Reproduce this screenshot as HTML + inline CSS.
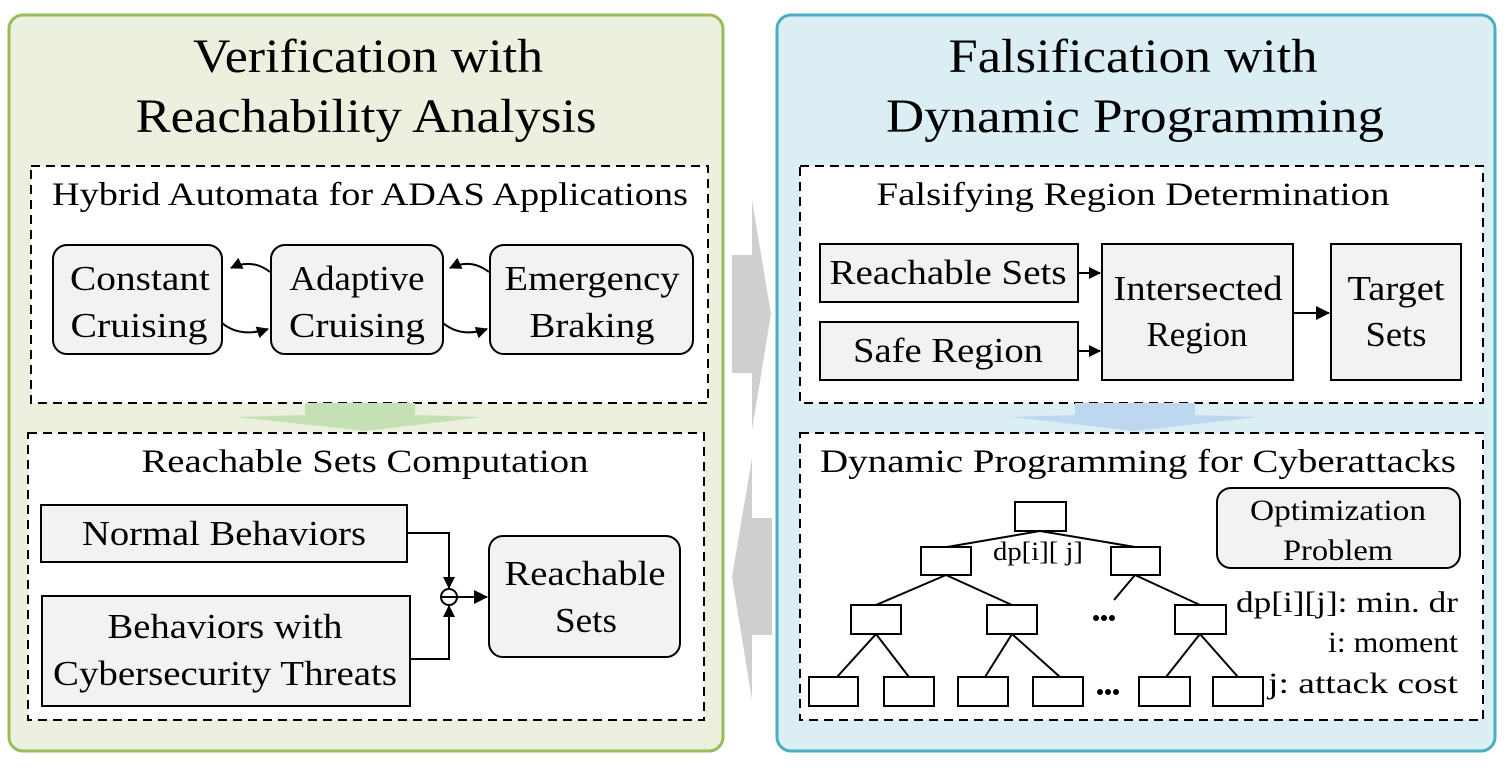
<!DOCTYPE html>
<html><head><meta charset="utf-8"><style>
html,body{margin:0;padding:0;background:#fff;}
svg{display:block;}
text{font-family:"Liberation Serif",serif;fill:#000;}
</style></head><body>
<svg width="1512" height="772" viewBox="0 0 1512 772" xmlns="http://www.w3.org/2000/svg">
<defs>
<marker id="ah" markerWidth="12" markerHeight="12" refX="11" refY="6" orient="auto" markerUnits="userSpaceOnUse">
<path d="M0,0 L12,6 L0,12 z" fill="#000"/>
</marker>
<marker id="ah2" markerWidth="14" markerHeight="14" refX="13" refY="7" orient="auto" markerUnits="userSpaceOnUse">
<path d="M0,0 L14,7 L0,14 z" fill="#000"/>
</marker>
</defs>
<rect x="9" y="15" width="714" height="736" rx="14" fill="#ebf1de" stroke="#9bbb59" stroke-width="3"/>
<rect x="777" y="15" width="718" height="736" rx="14" fill="#dbeef4" stroke="#4bacc6" stroke-width="3"/>
<g font-size="48" text-anchor="middle">
<text x="368" y="72" textLength="350" lengthAdjust="spacingAndGlyphs">Verification with</text>
<text x="366" y="132" textLength="461" lengthAdjust="spacingAndGlyphs">Reachability Analysis</text>
<text x="1133" y="72" textLength="369" lengthAdjust="spacingAndGlyphs">Falsification with</text>
<text x="1135" y="132" textLength="498" lengthAdjust="spacingAndGlyphs">Dynamic Programming</text>
</g>

<path d="M732,255 L752,255 L752,200 L771,314 L752,430 L752,373 L732,373 z" fill="#d0cece"/>
<path d="M772,518 L752,518 L752,458 L732,577 L752,700 L752,635 L772,635 z" fill="#d0cece"/>

<rect x="31" y="166" width="677" height="237" fill="#fff" stroke="#000" stroke-width="2" stroke-dasharray="9,6"/>
<text x="370" y="205" font-size="33" text-anchor="middle" textLength="636" lengthAdjust="spacingAndGlyphs">Hybrid Automata for ADAS Applications</text>
<rect x="53" y="245" width="169" height="109" rx="14" fill="#f2f2f2" stroke="#000" stroke-width="2"/>
<rect x="271" y="245" width="172" height="109" rx="14" fill="#f2f2f2" stroke="#000" stroke-width="2"/>
<rect x="490" y="245" width="203" height="109" rx="14" fill="#f2f2f2" stroke="#000" stroke-width="2"/>
<g font-size="35" text-anchor="middle">
<text x="140" y="290" textLength="140" lengthAdjust="spacingAndGlyphs">Constant</text>
<text x="139" y="337" textLength="137" lengthAdjust="spacingAndGlyphs">Cruising</text>
<text x="357" y="290" textLength="135" lengthAdjust="spacingAndGlyphs">Adaptive</text>
<text x="357" y="337" textLength="136" lengthAdjust="spacingAndGlyphs">Cruising</text>
<text x="592" y="290" textLength="175" lengthAdjust="spacingAndGlyphs">Emergency</text>
<text x="592" y="337" textLength="125" lengthAdjust="spacingAndGlyphs">Braking</text>
</g>
<g fill="none" stroke="#000" stroke-width="2">
<path d="M270,272 Q252,258 231,268" marker-end="url(#ah)"/>
<path d="M222,323 Q240,338 268,329" marker-end="url(#ah)"/>
<path d="M489,272 Q471,258 450,268" marker-end="url(#ah)"/>
<path d="M443,323 Q461,338 487,329" marker-end="url(#ah)"/>
</g>
<path d="M305,403 L415,403 L415,415 L483,417 L366,431 L235,417 L305,415 z" fill="#c5e0b4"/>

<rect x="28" y="433" width="676" height="287" fill="#fff" stroke="#000" stroke-width="2" stroke-dasharray="9,6"/>
<text x="365" y="472" font-size="33" text-anchor="middle" textLength="447" lengthAdjust="spacingAndGlyphs">Reachable Sets Computation</text>
<rect x="41" y="505" width="366" height="57" fill="#f2f2f2" stroke="#000" stroke-width="2"/>
<text x="224" y="545" font-size="35" text-anchor="middle" textLength="284" lengthAdjust="spacingAndGlyphs">Normal Behaviors</text>
<rect x="42" y="596" width="368" height="110" fill="#f2f2f2" stroke="#000" stroke-width="2"/>
<text x="225" y="638" font-size="35" text-anchor="middle" textLength="235" lengthAdjust="spacingAndGlyphs">Behaviors with</text>
<text x="225" y="685" font-size="35" text-anchor="middle" textLength="344" lengthAdjust="spacingAndGlyphs">Cybersecurity Threats</text>
<rect x="489" y="536" width="191" height="121" rx="14" fill="#f2f2f2" stroke="#000" stroke-width="2"/>
<text x="585" y="585" font-size="35" text-anchor="middle" textLength="161" lengthAdjust="spacingAndGlyphs">Reachable</text>
<text x="586" y="632" font-size="35" text-anchor="middle" textLength="62" lengthAdjust="spacingAndGlyphs">Sets</text>
<g fill="none" stroke="#000" stroke-width="2">
<path d="M407,533 L449,533 L449,588" marker-end="url(#ah)"/>
<path d="M410,659 L449,659 L449,606" marker-end="url(#ah)"/>
<circle cx="449" cy="597" r="8" fill="#fff"/>
<line x1="441" y1="597" x2="457" y2="597"/>
<path d="M457,597 L487,597" marker-end="url(#ah2)"/>
</g>

<rect x="800" y="166" width="683" height="237" fill="#fff" stroke="#000" stroke-width="2" stroke-dasharray="9,6"/>
<text x="1133" y="205" font-size="33" text-anchor="middle" textLength="513" lengthAdjust="spacingAndGlyphs">Falsifying Region Determination</text>
<rect x="820" y="244" width="258" height="58" fill="#f2f2f2" stroke="#000" stroke-width="2"/>
<rect x="820" y="322" width="258" height="58" fill="#f2f2f2" stroke="#000" stroke-width="2"/>
<rect x="1102" y="244" width="191" height="136" fill="#f2f2f2" stroke="#000" stroke-width="2"/>
<rect x="1331" y="244" width="130" height="136" fill="#f2f2f2" stroke="#000" stroke-width="2"/>
<g font-size="35" text-anchor="middle">
<text x="948" y="284" textLength="237" lengthAdjust="spacingAndGlyphs">Reachable Sets</text>
<text x="948" y="362" textLength="190" lengthAdjust="spacingAndGlyphs">Safe Region</text>
<text x="1198" y="300" textLength="169" lengthAdjust="spacingAndGlyphs">Intersected</text>
<text x="1197" y="346">Region</text>
<text x="1396" y="300" textLength="97" lengthAdjust="spacingAndGlyphs">Target</text>
<text x="1396" y="346" textLength="61" lengthAdjust="spacingAndGlyphs">Sets</text>
</g>
<g fill="none" stroke="#000" stroke-width="2">
<path d="M1078,273 L1100,273" marker-end="url(#ah)"/>
<path d="M1078,351 L1100,351" marker-end="url(#ah)"/>
<path d="M1293,313 L1329,313" marker-end="url(#ah2)"/>
</g>
<path d="M1075,403 L1195,403 L1195,415 L1258,417 L1135,431 L1010,417 L1075,415 z" fill="#bdd7ee"/>

<rect x="800" y="433" width="683" height="287" fill="#fff" stroke="#000" stroke-width="2" stroke-dasharray="9,6"/>
<text x="1138" y="472" font-size="33" text-anchor="middle" textLength="636" lengthAdjust="spacingAndGlyphs">Dynamic Programming for Cyberattacks</text>
<rect x="1217" y="488" width="243" height="80" rx="14" fill="#f2f2f2" stroke="#000" stroke-width="2"/>
<text x="1338" y="520" font-size="30" text-anchor="middle" textLength="176" lengthAdjust="spacingAndGlyphs">Optimization</text>
<text x="1338" y="560" font-size="30" text-anchor="middle" textLength="110" lengthAdjust="spacingAndGlyphs">Problem</text>
<g font-size="30" text-anchor="end">
<text x="1458" y="612" textLength="222" lengthAdjust="spacingAndGlyphs">dp[i][j]: min. dr</text>
<text x="1458" y="652" textLength="130" lengthAdjust="spacingAndGlyphs">i: moment</text>
<text x="1458" y="693" textLength="190" lengthAdjust="spacingAndGlyphs">j: attack cost</text>
</g>
<text x="1038" y="560" font-size="26" text-anchor="middle" textLength="90" lengthAdjust="spacingAndGlyphs">dp[i][ j]</text>
<g fill="none" stroke="#000" stroke-width="2">
<line x1="1040" y1="531" x2="947" y2="547"/><line x1="1040" y1="531" x2="1135" y2="547"/>
<line x1="946" y1="575" x2="876" y2="605"/><line x1="946" y1="575" x2="1012" y2="605"/>
<line x1="1135" y1="575" x2="1114" y2="600"/><line x1="1135" y1="575" x2="1200" y2="605"/>
<line x1="876" y1="634" x2="837" y2="677"/><line x1="876" y1="634" x2="909" y2="677"/>
<line x1="1012" y1="634" x2="985" y2="677"/><line x1="1012" y1="634" x2="1060" y2="677"/>
<line x1="1200" y1="634" x2="1166" y2="677"/><line x1="1200" y1="634" x2="1238" y2="677"/>
</g>
<g fill="#fff" stroke="#000" stroke-width="2">
<rect x="1015" y="502" width="51" height="29"/>
<rect x="921" y="547" width="50" height="28"/><rect x="1111" y="547" width="49" height="28"/>
<rect x="851" y="605" width="50" height="29"/><rect x="987" y="605" width="50" height="29"/><rect x="1175" y="605" width="51" height="29"/>
<rect x="809" y="677" width="49" height="29"/><rect x="884" y="677" width="50" height="29"/>
<rect x="958" y="677" width="50" height="29"/><rect x="1033" y="677" width="50" height="29"/>
<rect x="1139" y="677" width="51" height="29"/><rect x="1213" y="677" width="50" height="29"/>
</g>
<g fill="#000">
<circle cx="1096" cy="618" r="3"/><circle cx="1104" cy="618" r="3"/><circle cx="1112" cy="618" r="3"/>
<circle cx="1100" cy="692" r="3"/><circle cx="1108" cy="692" r="3"/><circle cx="1116" cy="692" r="3"/>
</g>
</svg>
</body></html>
